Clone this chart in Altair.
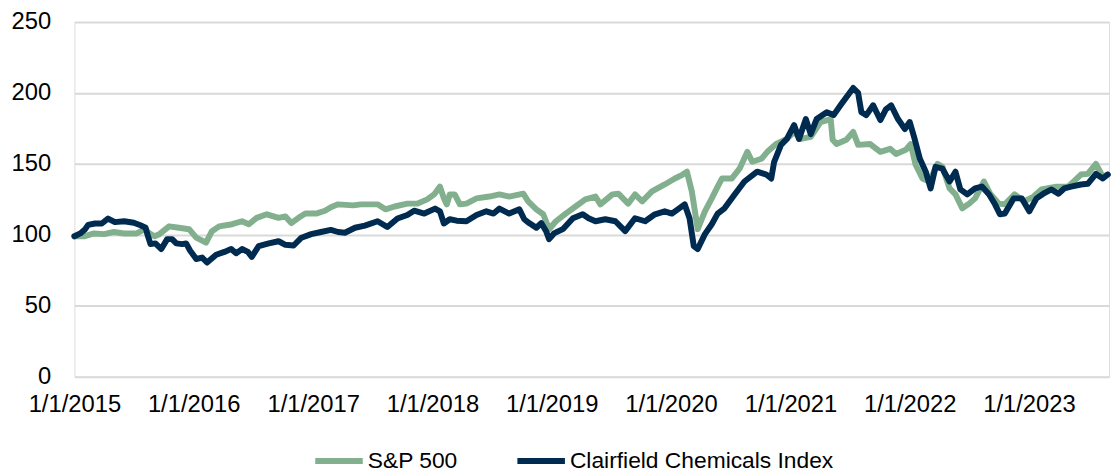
import altair as alt
import pandas as pd

series_names = ["S&P 500", "Clairfield Chemicals Index"]
series_colors = ["#82b08e", "#002b50"]

sp_dates = [
    "2015-01-01", "2015-01-31", "2015-03-02", "2015-04-02", "2015-05-02", "2015-06-02",
    "2015-07-11", "2015-08-04", "2015-08-19", "2015-09-03", "2015-09-18", "2015-10-18",
    "2015-11-17", "2015-12-18", "2016-01-09", "2016-02-08", "2016-02-26", "2016-03-19",
    "2016-04-28", "2016-05-28", "2016-06-18", "2016-07-12", "2016-08-12", "2016-09-17",
    "2016-10-08", "2016-10-26", "2016-11-17", "2016-12-08", "2017-01-10", "2017-02-06",
    "2017-02-24", "2017-03-18", "2017-05-03", "2017-05-27", "2017-07-17", "2017-08-10",
    "2017-09-07", "2017-10-16", "2017-11-15", "2017-12-16", "2018-01-06", "2018-01-24",
    "2018-02-05", "2018-02-14", "2018-02-23", "2018-03-10", "2018-03-26", "2018-04-15",
    "2018-05-16", "2018-06-24", "2018-07-25", "2018-08-24", "2018-10-06", "2018-10-21",
    "2018-11-15", "2018-12-06", "2018-12-24", "2019-01-14", "2019-02-13", "2019-03-15",
    "2019-04-14", "2019-05-15", "2019-05-30", "2019-07-06", "2019-07-24", "2019-08-23",
    "2019-09-13", "2019-10-05", "2019-11-04", "2019-12-13", "2020-01-13", "2020-02-06",
    "2020-02-19", "2020-03-05", "2020-03-23", "2020-04-14", "2020-05-05", "2020-05-23",
    "2020-06-05", "2020-07-05", "2020-07-29", "2020-08-22", "2020-09-06", "2020-10-04",
    "2020-10-22", "2020-11-18", "2020-12-21", "2021-01-12", "2021-02-02", "2021-03-04",
    "2021-04-03", "2021-05-04", "2021-05-10", "2021-05-22", "2021-06-21", "2021-07-12",
    "2021-07-27", "2021-09-02", "2021-10-03", "2021-11-02", "2021-11-20", "2021-12-20",
    "2022-01-04", "2022-01-19", "2022-02-09", "2022-03-02", "2022-03-27", "2022-04-11",
    "2022-05-03", "2022-05-21", "2022-06-11", "2022-07-02", "2022-07-20", "2022-08-16",
    "2022-09-04", "2022-10-01", "2022-10-19", "2022-11-18", "2022-12-18", "2023-01-15",
    "2023-02-08", "2023-03-26", "2023-05-01", "2023-06-09", "2023-06-30", "2023-07-25",
    "2023-08-15", "2023-08-30",
]
sp_values = [
    99, 99, 101, 100.5, 102, 101,
    101, 104, 101, 99, 100.5, 106,
    105, 104, 98, 94.5, 102.6, 106,
    107.5, 109.6, 107.5, 112, 114.5, 112,
    113, 108.3, 112, 115, 115, 117,
    119.5, 121.5, 120.8, 121.5, 121.5, 118,
    120, 122, 122, 125, 128.5, 134,
    125.7, 121.5, 128.5, 128.5, 121.5, 122,
    125.7, 127, 128.5, 127, 129, 123.6,
    118, 114.5, 104, 109.6, 115, 120,
    125, 127, 121.5, 128.5, 129, 122,
    128.5, 123.6, 130.6, 135.5, 139.7, 142.5,
    144.5, 130.6, 104, 116.6, 125.7, 134,
    139.7, 139.7, 146.6, 158.5, 151.5, 153.6,
    158.5, 164, 167.6, 172.5, 167.6, 169,
    179.5, 181.6, 167, 164, 167, 172.5,
    163.4, 164, 158.5, 160.6, 157, 159.9,
    164, 149.4, 139.7, 137.6, 150, 148,
    132.7, 128.5, 118.7, 122, 125.7, 137.6,
    129, 122, 121.5, 128.5, 123.6, 127,
    132, 134, 134, 142.5, 143, 150,
    141, 142.5,
]

cci_dates = [
    "2015-01-01", "2015-01-19", "2015-02-03", "2015-02-12", "2015-03-05", "2015-03-26",
    "2015-04-14", "2015-05-05", "2015-06-02", "2015-07-02", "2015-07-20", "2015-08-07",
    "2015-08-13", "2015-08-22", "2015-09-06", "2015-09-24", "2015-10-12", "2015-10-27",
    "2015-11-09", "2015-11-27", "2015-12-09", "2015-12-21", "2016-01-09", "2016-01-27",
    "2016-02-11", "2016-03-10", "2016-04-04", "2016-04-25", "2016-05-10", "2016-05-28",
    "2016-06-15", "2016-06-27", "2016-07-18", "2016-08-18", "2016-09-17", "2016-10-08",
    "2016-11-02", "2016-11-26", "2016-12-26", "2017-01-25", "2017-02-24", "2017-03-18",
    "2017-04-08", "2017-05-09", "2017-06-08", "2017-07-17", "2017-08-16", "2017-09-16",
    "2017-10-16", "2017-11-06", "2017-12-07", "2018-01-09", "2018-01-24", "2018-02-05",
    "2018-02-23", "2018-03-16", "2018-04-15", "2018-05-16", "2018-06-15", "2018-07-07",
    "2018-07-25", "2018-08-24", "2018-09-24", "2018-10-09", "2018-10-24", "2018-11-15",
    "2018-11-30", "2018-12-15", "2018-12-24", "2019-01-08", "2019-02-04", "2019-03-07",
    "2019-04-06", "2019-04-24", "2019-05-15", "2019-06-14", "2019-07-15", "2019-08-14",
    "2019-09-13", "2019-10-14", "2019-11-13", "2019-12-13", "2020-01-04", "2020-01-22",
    "2020-02-12", "2020-02-27", "2020-03-11", "2020-03-23", "2020-04-14", "2020-05-05",
    "2020-05-23", "2020-06-13", "2020-07-14", "2020-08-13", "2020-09-21", "2020-10-19",
    "2020-11-03", "2020-11-12", "2020-12-03", "2020-12-21", "2021-01-12", "2021-01-27",
    "2021-02-17", "2021-03-04", "2021-03-22", "2021-04-22", "2021-05-13", "2021-06-03",
    "2021-06-21", "2021-07-12", "2021-07-27", "2021-08-06", "2021-08-21", "2021-09-11",
    "2021-10-03", "2021-10-20", "2021-11-05", "2021-11-26", "2021-12-17", "2022-01-01",
    "2022-01-16", "2022-02-01", "2022-02-19", "2022-03-06", "2022-03-21", "2022-04-11",
    "2022-05-03", "2022-05-21", "2022-06-05", "2022-06-26", "2022-07-20", "2022-08-10",
    "2022-09-01", "2022-09-19", "2022-10-04", "2022-10-19", "2022-11-15", "2022-12-10",
    "2023-01-02", "2023-01-24", "2023-02-14", "2023-03-11", "2023-04-01", "2023-04-19",
    "2023-05-10", "2023-06-09", "2023-06-30", "2023-07-25", "2023-08-15", "2023-08-30",
]
cci_values = [
    99, 101, 104, 107, 108, 108,
    111.5, 109, 109.6, 108.5, 107, 105,
    100, 93.5, 94, 90, 97, 97,
    94, 93.5, 94, 89, 83, 84,
    80.5, 86, 88, 90, 87, 90,
    88, 84.5, 92, 94, 95.5, 93,
    92.5, 98, 100.5, 102, 103.5, 102,
    101.5, 105, 106.5, 109.6, 105.5, 111.5,
    114, 117, 115, 118.5, 116.6, 108,
    111, 110, 109.6, 114, 116.6, 115,
    118.5, 115, 118, 111, 108.3, 105,
    108.3, 102.6, 97, 101, 104, 111.7,
    114.5, 111.7, 109.6, 111, 109.6, 102.6,
    111.7, 109.6, 114.5, 116.6, 115, 118,
    121.5, 111.7, 92, 90, 100.5, 107.5,
    115, 118.7, 128.5, 137.6, 144.5, 142.5,
    139.7, 151.5, 163.4, 167.6, 177.4, 167.6,
    181.6, 171, 181.6, 186.4, 184.4, 191.3,
    197, 203.5, 200, 186.4, 184.4, 191.3,
    180.9, 188.5, 191.3, 181.6, 174.6, 179.5,
    167.6, 153.6, 144.5, 132.7, 148, 146.6,
    137.6, 144.5, 132, 128.5, 132.7, 134,
    128.5, 121.5, 114.5, 115, 125.7, 125.7,
    116.6, 125.7, 129, 132, 129, 132.7,
    134, 135.5, 136, 143, 139.7, 142.5,
]

x_tick_years = [2015, 2016, 2017, 2018, 2019, 2020, 2021, 2022, 2023]
y_ticks = [0, 50, 100, 150, 200, 250]

df = pd.concat([
    pd.DataFrame({"date": sp_dates, "value": sp_values, "series": series_names[0], "order": 0}),
    pd.DataFrame({"date": cci_dates, "value": cci_values, "series": series_names[1], "order": 1}),
], ignore_index=True)

FONT = "Liberation Sans"

chart = alt.Chart(df).mark_line(
    strokeWidth=6, strokeJoin="round", strokeCap="round"
).encode(
    x=alt.X(
        "date:T",
        scale=alt.Scale(
            type="utc",
            domain=[alt.DateTime(year=2015, month=1, date=1, utc=True),
                    alt.DateTime(year=2023, month=9, date=3, utc=True)],
        ),
        axis=alt.Axis(
            title=None,
            values=[alt.DateTime(year=y, month=1, date=1, utc=True) for y in x_tick_years],
            format="%-m/%-d/%Y",
            grid=False, ticks=False, domain=False,
            labelFont=FONT, labelFontSize=24, labelColor="#000000",
            labelPadding=16, labelFlush=False, labelOverlap=False,
        ),
    ),
    y=alt.Y(
        "value:Q",
        scale=alt.Scale(domain=[0, 250], nice=False),
        axis=alt.Axis(
            title=None, values=y_ticks,
            grid=True, gridColor="#d9d9d9", gridWidth=2,
            ticks=False, domain=False,
            labelFont=FONT, labelFontSize=24, labelColor="#000000",
            labelPadding=24,
        ),
    ),
    color=alt.Color(
        "series:N",
        scale=alt.Scale(domain=series_names, range=series_colors),
        legend=alt.Legend(
            title=None, orient="none", direction="horizontal",
            legendX=240, legendY=416,
            symbolType="stroke", symbolSize=2300, symbolStrokeWidth=6,
            labelFont=FONT, labelFontSize=23, labelColor="#000000",
            labelOffset=2, columnPadding=48, labelLimit=500,
        ),
    ),
    order=alt.Order("order:Q"),
    detail="series:N",
).properties(
    width=1044, height=358,
    padding={"left": 2, "right": 0, "top": 0, "bottom": 0},
).configure_view(strokeWidth=0).configure(background="#ffffff")

chart.save("out.html", embed_options={"renderer": "svg", "actions": False})
